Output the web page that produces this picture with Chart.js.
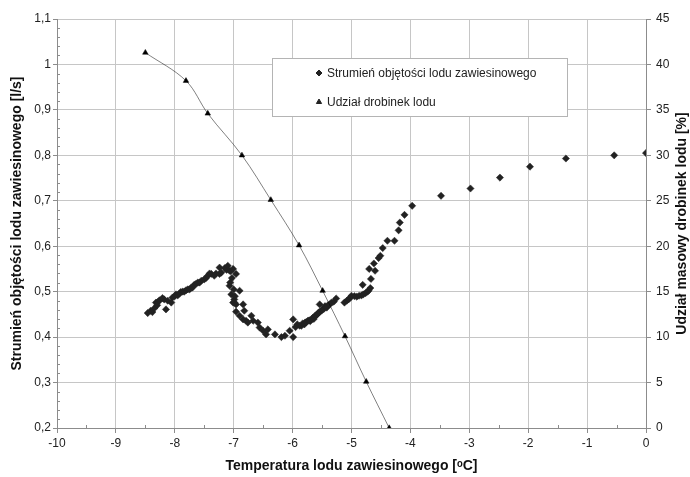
<!DOCTYPE html>
<html>
<head>
<meta charset="utf-8">
<script src="https://cdn.jsdelivr.net/npm/chart.js@4/dist/chart.umd.min.js"></script>
<style>
    html, body { margin: 0; padding: 0; background: #fff; }
    #wrap { position: relative; width: 690px; height: 477px; }
</style>
</head>
<body>
<div id="wrap"><canvas id="chart" width="690" height="477"></canvas></div>
<script>
// Temperature [°C] / volume flow of ice slurry [l/s] (diamonds)
const flowTemp = [
    -8.46, -8.41, -8.38, -8.35, -8.32, -8.30, -8.28, -8.26, -8.21, -8.18, -8.15, -8.12, -8.06, -8.04, -8.00,
    -7.98, -7.95, -7.92, -7.90, -7.87, -7.84, -7.81, -7.78, -7.75, -7.73, -7.70, -7.67, -7.64, -7.61, -7.58,
    -7.55, -7.50, -7.47, -7.44, -7.41, -7.38, -7.33, -7.30, -7.24, -7.24, -7.21, -7.15, -7.12, -7.10, -7.07,
    -7.05, -7.01, -6.96, -7.07, -7.06, -7.03, -7.04, -7.00, -6.99, -6.98, -7.01, -6.96, -6.90, -6.99, -6.84,
    -6.96, -6.82, -6.90, -6.84, -6.79, -6.76, -6.70, -6.67, -6.59, -6.56, -6.50, -6.45, -6.42, -6.30, -6.19,
    -6.13, -6.05, -5.99, -5.99, -5.95, -5.92, -5.88, -5.85, -5.83, -5.80, -5.79, -5.77, -5.74, -5.72, -5.70,
    -5.68, -5.66, -5.64, -5.62, -5.60, -5.58, -5.57, -5.55, -5.54, -5.51, -5.50, -5.47, -5.45, -5.42, -5.40,
    -5.37, -5.34, -5.30, -5.26, -5.12, -5.08, -5.05, -5.02, -5.00, -4.95, -4.91, -4.87, -4.83, -4.80, -4.76,
    -4.73, -4.71, -4.68, -4.81, -4.67, -4.70, -4.60, -4.62, -4.54, -4.51, -4.47, -4.39, -4.27, -4.20, -4.18,
    -4.10, -3.97, -3.48, -2.98, -2.48, -1.97, -1.36, -0.54, 0.00
];
const flowValues = [
    0.453, 0.458, 0.455, 0.463, 0.476, 0.470, 0.478, 0.481, 0.486, 0.483, 0.461, 0.480, 0.476, 0.487, 0.490,
    0.494, 0.492, 0.496, 0.499, 0.500, 0.500, 0.503, 0.505, 0.505, 0.508, 0.509, 0.515, 0.517, 0.520, 0.520,
    0.524, 0.527, 0.530, 0.535, 0.540, 0.539, 0.535, 0.540, 0.553, 0.539, 0.542, 0.552, 0.548, 0.557, 0.546,
    0.545, 0.550, 0.539, 0.513, 0.520, 0.530, 0.494, 0.505, 0.483, 0.490, 0.476, 0.472, 0.502, 0.476, 0.472,
    0.456, 0.458, 0.447, 0.439, 0.436, 0.432, 0.447, 0.436, 0.432, 0.421, 0.414, 0.406, 0.417, 0.406, 0.400,
    0.403, 0.414, 0.400, 0.439, 0.422, 0.428, 0.425, 0.425, 0.430, 0.428, 0.432, 0.433, 0.436, 0.437, 0.435,
    0.439, 0.442, 0.440, 0.447, 0.448, 0.450, 0.452, 0.455, 0.472, 0.458, 0.460, 0.462, 0.468, 0.465, 0.470,
    0.472, 0.476, 0.478, 0.485, 0.476, 0.480, 0.483, 0.487, 0.491, 0.490, 0.489, 0.491, 0.492, 0.494, 0.497,
    0.500, 0.502, 0.508, 0.515, 0.528, 0.550, 0.546, 0.562, 0.574, 0.579, 0.596, 0.612, 0.612, 0.635, 0.652,
    0.669, 0.689, 0.711, 0.727, 0.751, 0.775, 0.793, 0.800, 0.805
];

// Temperature [°C] / mass fraction of ice particles [%] (triangles)
const shareTemp = [-8.50, -7.81, -7.44, -6.86, -6.37, -5.89, -5.49, -5.11, -4.75, -4.36];
const shareValues = [41.3, 38.2, 34.6, 30.0, 25.1, 20.1, 15.1, 10.1, 5.1, 0.0];

// Axis ticks
const xTicks = [-10, -9, -8, -7, -6, -5, -4, -3, -2, -1, 0];
const leftTicks = [0.2, 0.3, 0.4, 0.5, 0.6, 0.7, 0.8, 0.9, 1.0, 1.1];
const rightTicks = [0, 5, 10, 15, 20, 25, 30, 35, 40, 45];

const seriesNames = ['Strumień objętości lodu zawiesinowego', 'Udział drobinek lodu'];
const rightTitle = 'Udział masowy drobinek lodu [%]';

const FONT = "'Liberation Sans', Arial, sans-serif";
const MARK = '#222222';
const GRID = '#c6c6c6';
const AXIS = '#8c8c8c';

function decimalComma(v) {
    return String(+v.toFixed(1)).replace('.', ',');
}

function setTicks(list) {
    return scale => { scale.ticks = list.map(v => ({ value: v })); };
}

// small inner minor ticks like the spreadsheet original
const minorTicks = {
    id: 'minorTicks',
    afterDraw(chart) {
        const ctx = chart.ctx;
        const x = chart.scales.x;
        const y = chart.scales.y;
        ctx.save();
        ctx.strokeStyle = AXIS;
        ctx.lineWidth = 1;
        ctx.beginPath();
        for (let i = 0; i < 45; i++) {
            if (i % 5 === 0) continue;
            const py = Math.round(y.getPixelForValue(0.2 + i * 0.02)) + 0.5;
            ctx.moveTo(y.right, py);
            ctx.lineTo(y.right + 3, py);
        }
        for (let i = 0; i < 10; i++) {
            const px = Math.round(x.getPixelForValue(-9.5 + i)) + 0.5;
            ctx.moveTo(px, x.top);
            ctx.lineTo(px, x.top - 3);
        }
        ctx.stroke();
        ctx.restore();
    }
};

// right axis title reads bottom-to-top, as in the original
const rightAxisTitle = {
    id: 'rightAxisTitle',
    afterDraw(chart) {
        const ctx = chart.ctx;
        const area = chart.chartArea;
        ctx.save();
        ctx.translate(chart.width - 8, (area.top + area.bottom) / 2);
        ctx.rotate(-Math.PI / 2);
        ctx.font = 'bold 14px ' + FONT;
        ctx.fillStyle = '#111';
        ctx.textAlign = 'center';
        ctx.textBaseline = 'middle';
        ctx.fillText(rightTitle, 0, 0);
        ctx.restore();
    }
};

// boxed legend inside the plot
const boxLegend = {
    id: 'boxLegend',
    afterDraw(chart) {
        const ctx = chart.ctx;
        const left = 272, top = 58, w = 295, h = 58;
        ctx.save();
        ctx.fillStyle = '#fff';
        ctx.fillRect(left, top, w, h);
        ctx.strokeStyle = '#b4b4b4';
        ctx.lineWidth = 1;
        ctx.strokeRect(left + 0.5, top + 0.5, w, h);
        const styles = ['rectRot', 'triangle'];
        ctx.font = '12px ' + FONT;
        ctx.textBaseline = 'middle';
        seriesNames.forEach((name, i) => {
            const cy = top + 15 + i * 29;
            ctx.fillStyle = MARK;
            ctx.strokeStyle = MARK;
            Chart.helpers.drawPoint(ctx, { pointStyle: styles[i], radius: 3, borderWidth: 1 }, 319, cy);
            ctx.fillStyle = '#222';
            ctx.fillText(name, 327, cy + 1);
        });
        ctx.restore();
    }
};

const ctx = document.getElementById('chart').getContext('2d');
new Chart(ctx, {
    type: 'scatter',
    data: {
        datasets: [
            {
                label: seriesNames[0],
                data: flowTemp.map((t, i) => ({ x: t, y: flowValues[i] })),
                yAxisID: 'y',
                pointStyle: 'rectRot',
                pointRadius: 3.6,
                backgroundColor: MARK,
                borderColor: MARK,
                borderWidth: 0.5,
                showLine: false,
                order: 2
            },
            {
                label: seriesNames[1],
                data: shareTemp.map((t, i) => ({ x: t, y: shareValues[i] })),
                yAxisID: 'y2',
                pointStyle: 'triangle',
                pointRadius: 3.2,
                backgroundColor: '#000',
                borderColor: '#000',
                borderWidth: 0.5,
                showLine: true,
                tension: 0.35,
                order: 1
            }
        ]
    },
    options: {
        responsive: false,
        animation: false,
        layout: { padding: { top: 19, right: 0, left: 0, bottom: 0 } },
        plugins: {
            legend: { display: false },
            tooltip: { enabled: false }
        },
        elements: { line: { borderWidth: 1, borderColor: '#222' } },
        scales: {
            x: {
                type: 'linear',
                position: 'bottom',
                min: -10,
                max: 0,
                afterBuildTicks: setTicks(xTicks),
                afterFit: s => { s.height = 49; },
                grid: { color: GRID, tickLength: 5, tickColor: AXIS },
                border: { color: AXIS },
                ticks: { color: '#222', font: { family: FONT, size: 12 }, padding: 3 },
                title: {
                    display: true,
                    text: 'Temperatura lodu zawiesinowego [ᵒC]',
                    color: '#111',
                    font: { family: FONT, size: 14, weight: 'bold' },
                    padding: { top: 0, bottom: 2 }
                }
            },
            y: {
                type: 'linear',
                position: 'left',
                min: 0.2,
                max: 1.1,
                afterBuildTicks: setTicks(leftTicks),
                afterFit: s => { s.width = 57; },
                grid: { color: GRID, tickLength: 4, tickColor: AXIS },
                border: { color: AXIS },
                ticks: { color: '#222', font: { family: FONT, size: 12 }, padding: 2, callback: v => decimalComma(v) },
                title: {
                    display: true,
                    text: 'Strumień objętości lodu zawiesinowego [l/s]',
                    color: '#111',
                    font: { family: FONT, size: 14, weight: 'bold' },
                    padding: { top: 9, bottom: 0 }
                }
            },
            y2: {
                type: 'linear',
                position: 'right',
                min: 0,
                max: 45,
                afterBuildTicks: setTicks(rightTicks),
                afterFit: s => { s.width = 44; },
                grid: { drawOnChartArea: false, tickLength: 5, tickColor: AXIS },
                border: { color: AXIS },
                ticks: { color: '#222', font: { family: FONT, size: 12 }, padding: 5 }
            }
        }
    },
    plugins: [minorTicks, rightAxisTitle, boxLegend]
});
</script>
</body>
</html>
